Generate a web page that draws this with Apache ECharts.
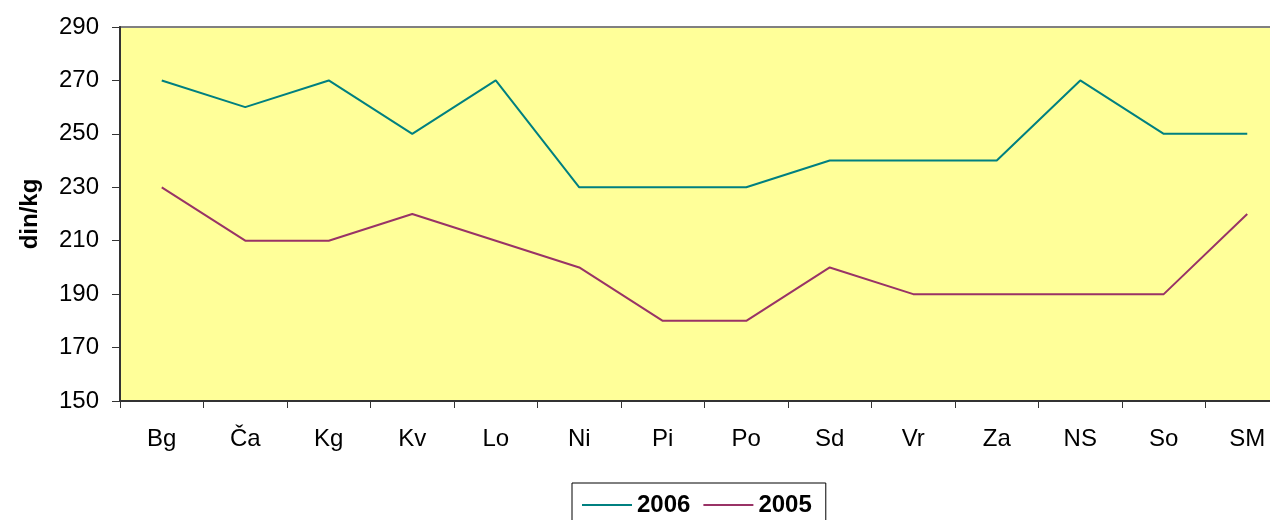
<!DOCTYPE html>
<html>
<head>
<meta charset="utf-8">
<script src="https://cdn.jsdelivr.net/npm/echarts@6/dist/echarts.min.js"></script>
<style>
html,body{margin:0;padding:0;background:#fff;}
#chart{width:1270px;height:520px;}
</style>
</head>
<body>
<div id="chart"></div>
<script>
var categories = ['Bg', 'Ča', 'Kg', 'Kv', 'Lo', 'Ni', 'Pi', 'Po', 'Sd', 'Vr', 'Za', 'NS', 'So', 'SM'];
var values2006 = [270, 260, 270, 250, 270, 230, 230, 230, 240, 240, 240, 270, 250, 250];
var values2005 = [230, 210, 210, 220, 210, 200, 180, 180, 200, 190, 190, 190, 190, 220];
var yTicks = [150, 170, 190, 210, 230, 250, 270, 290];

var chart = echarts.init(document.getElementById('chart'), null, {renderer: 'canvas'});
var font = 'Liberation Sans, Arial, sans-serif';
chart.setOption({
  animation: false,
  textStyle: {fontFamily: font},
  grid: {
    left: 120, top: 27, right: -19, bottom: 119,
    outerBoundsMode: 'none',
    show: true, backgroundColor: '#FFFF99', borderColor: '#808080', borderWidth: 2,
    containLabel: false
  },
  legend: {
    data: [{name: '2006'}, {name: '2005'}],
    left: 572, top: 483,
    padding: [10, 14, 20, 10],
    itemGap: 13,
    itemWidth: 50, itemHeight: 2,
    icon: 'rect',
    borderColor: '#000', borderWidth: 1,
    textStyle: {fontSize: 24, fontWeight: 'bold', color: '#000', fontFamily: font}
  },
  xAxis: {
    type: 'category',
    data: categories,
    boundaryGap: true,
    axisLine: {show: true, lineStyle: {color: '#333', width: 2}},
    axisTick: {show: true, alignWithLabel: false, length: 7, lineStyle: {color: '#333', width: 1}},
    axisLabel: {fontSize: 24, color: '#000', margin: 26, fontFamily: font},
    splitLine: {show: false}
  },
  yAxis: {
    type: 'value',
    min: yTicks[0], max: yTicks[yTicks.length - 1], interval: 20,
    name: 'din/kg', nameLocation: 'middle', nameGap: 78, nameRotate: 90,
    nameTextStyle: {fontSize: 24, fontWeight: 'bold', color: '#000', fontFamily: font},
    axisLine: {show: true, lineStyle: {color: '#333', width: 2}},
    axisTick: {show: true, inside: false, length: 8, lineStyle: {color: '#333', width: 1}},
    axisLabel: {fontSize: 24, color: '#000', margin: 21, fontFamily: font},
    splitLine: {show: false}
  },
  series: [
    {name: '2006', type: 'line', data: values2006, symbol: 'none',
     lineStyle: {color: '#008080', width: 2}, itemStyle: {color: '#008080'}},
    {name: '2005', type: 'line', data: values2005, symbol: 'none',
     lineStyle: {color: '#993366', width: 2}, itemStyle: {color: '#993366'}}
  ]
});
</script>
</body>
</html>
